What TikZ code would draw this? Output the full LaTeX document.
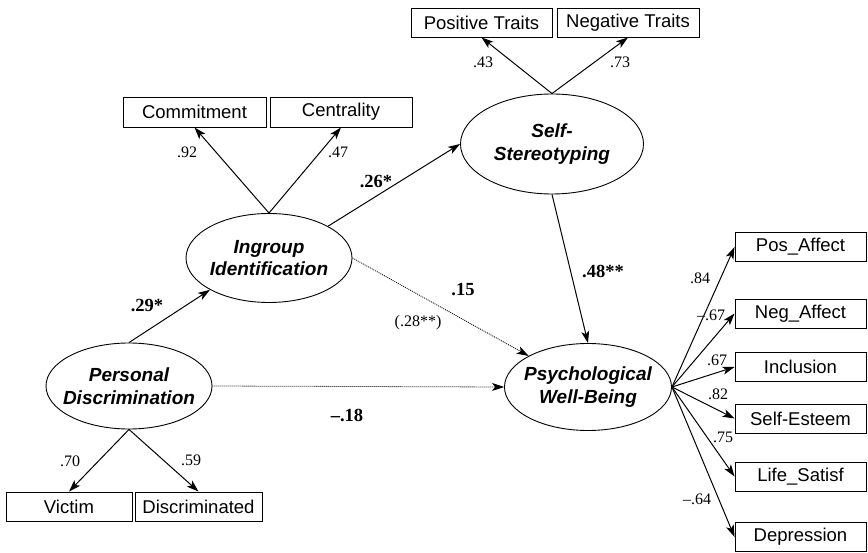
\documentclass[tikz,border=0pt]{standalone}
\usepackage{fontspec}
\setmainfont{Liberation Serif}
\setsansfont{Liberation Sans}
\usetikzlibrary{shapes.geometric,arrows.meta}

\begin{document}
\begin{tikzpicture}[x=1pt,y=-1pt]

 \tikzset{
    box/.style={
      draw,
      rectangle,
      minimum height=29pt,
      inner sep=0pt,
      line width=0.9pt,
      font=\sffamily\fontsize{18.5}{20}\selectfont
    },
    latent/.style={
      draw,
      ellipse,
      inner sep=-15pt,
      line width=0.9pt,
      align=center,
      font=\sffamily\bfseries\itshape\fontsize{19}{22.5}\selectfont
    },
    path/.style={line width=1pt, -{Stealth[length=12pt,width=8pt,inset=3pt]}},
    weak/.style={path, line width=0.8pt, dash pattern=on 1pt off 1pt},
    load/.style={inner sep=0pt, font=\fontsize{16}{16}\selectfont},
    coef/.style={inner sep=0pt, font=\bfseries\fontsize{18.5}{18.5}\selectfont}
  }

\useasboundingbox (0,0) rectangle (868,553);

% latent variables
\node[latent, minimum width=166pt, minimum height=86pt] (pd) at (129,386) {Personal\\Discrimination};
\node[latent, minimum width=166pt, minimum height=89pt] (ii) at (269,258) {Ingroup\\Identification};
\node[latent, minimum width=183pt, minimum height=100pt] (ss) at (552,144) {Self-\\Stereotyping};
\node[latent, minimum width=167pt, minimum height=87pt] (pwb) at (588,387) {Psychological\\Well-Being};

% indicators
\node[box, minimum width=143pt, minimum height=30pt] (commit) at (194.5,112) {Commitment};
\node[box, minimum width=142pt, minimum height=30pt] (central) at (341,112) {Centrality};
\node[box, minimum width=141pt] (postr) at (481.5,22.5) {Positive Traits};
\node[box, minimum width=142pt] (negtr) at (628,22.5) {Negative Traits};
\node[box, minimum width=126pt] (victim) at (69,506.5) {Victim};
\node[box, minimum width=127pt] (discr) at (198.5,506.5) {Discriminated};

\foreach \name/\y/\txt in {posaff/247/Pos\_Affect, negaff/313.5/Neg\_Affect, incl/367/Inclusion,
    selfest/418.5/Self-Esteem, lifesat/476.5/Life\_Satisf, depr/537/Depression}
    \node[box, minimum width=131pt] (\name) at (800.5,\y) {\txt};

% structural paths
\draw[path] (pd.north) -- (ii.south west);
\draw[path] (ii.north east) -- (ss.west);
\draw[path] (ss.south) -- (pwb.north);
\draw[weak] (ii.east) -- (pwb.north west);
\draw[weak] (pd.east) -- (pwb.west);

% measurement paths
\draw[path] (ii.north) -- (commit.south);
\draw[path] (ii.north) -- (central.south);
\draw[path] (ss.north) -- (postr.south);
\draw[path] (ss.north) -- (negtr.south);
\draw[path] (pd.south) -- (victim.north);
\draw[path] (pd.south) -- (discr.north);
\foreach \name in {posaff,negaff,incl,selfest,lifesat,depr}
    \draw[path] (pwb.east) -- (\name.west);

% coefficients
\node[coef] (c29) at (147,306) {.29*};
\node[coef] (c26) at (376,182) {.26*};
\node[coef] (c48) at (603,271) {.48**};
\node[coef] (c15) at (463,290) {.15};
\node[load] (c28) at (418,323) {(.28**)};
\node[coef] (c18) at (347,415) {--.18};

\node[load] (l92) at (187,152) {.92};
\node[load] (l47) at (338,152) {.47};
\node[load] (l43) at (483,62) {.43};
\node[load] (l73) at (620,62) {.73};
\node[load] (l70) at (70,461) {.70};
\node[load] (l59) at (191,460) {.59};
\node[load] (l84) at (700,278) {.84};
\node[load] (l67n) at (711,315) {--.67};
\node[load] (l67) at (717,360) {.67};
\node[load] (l82) at (718,394) {.82};
\node[load] (l75) at (723,437) {.75};
\node[load] (l64) at (697,499) {--.64};

\end{tikzpicture}
\end{document}
